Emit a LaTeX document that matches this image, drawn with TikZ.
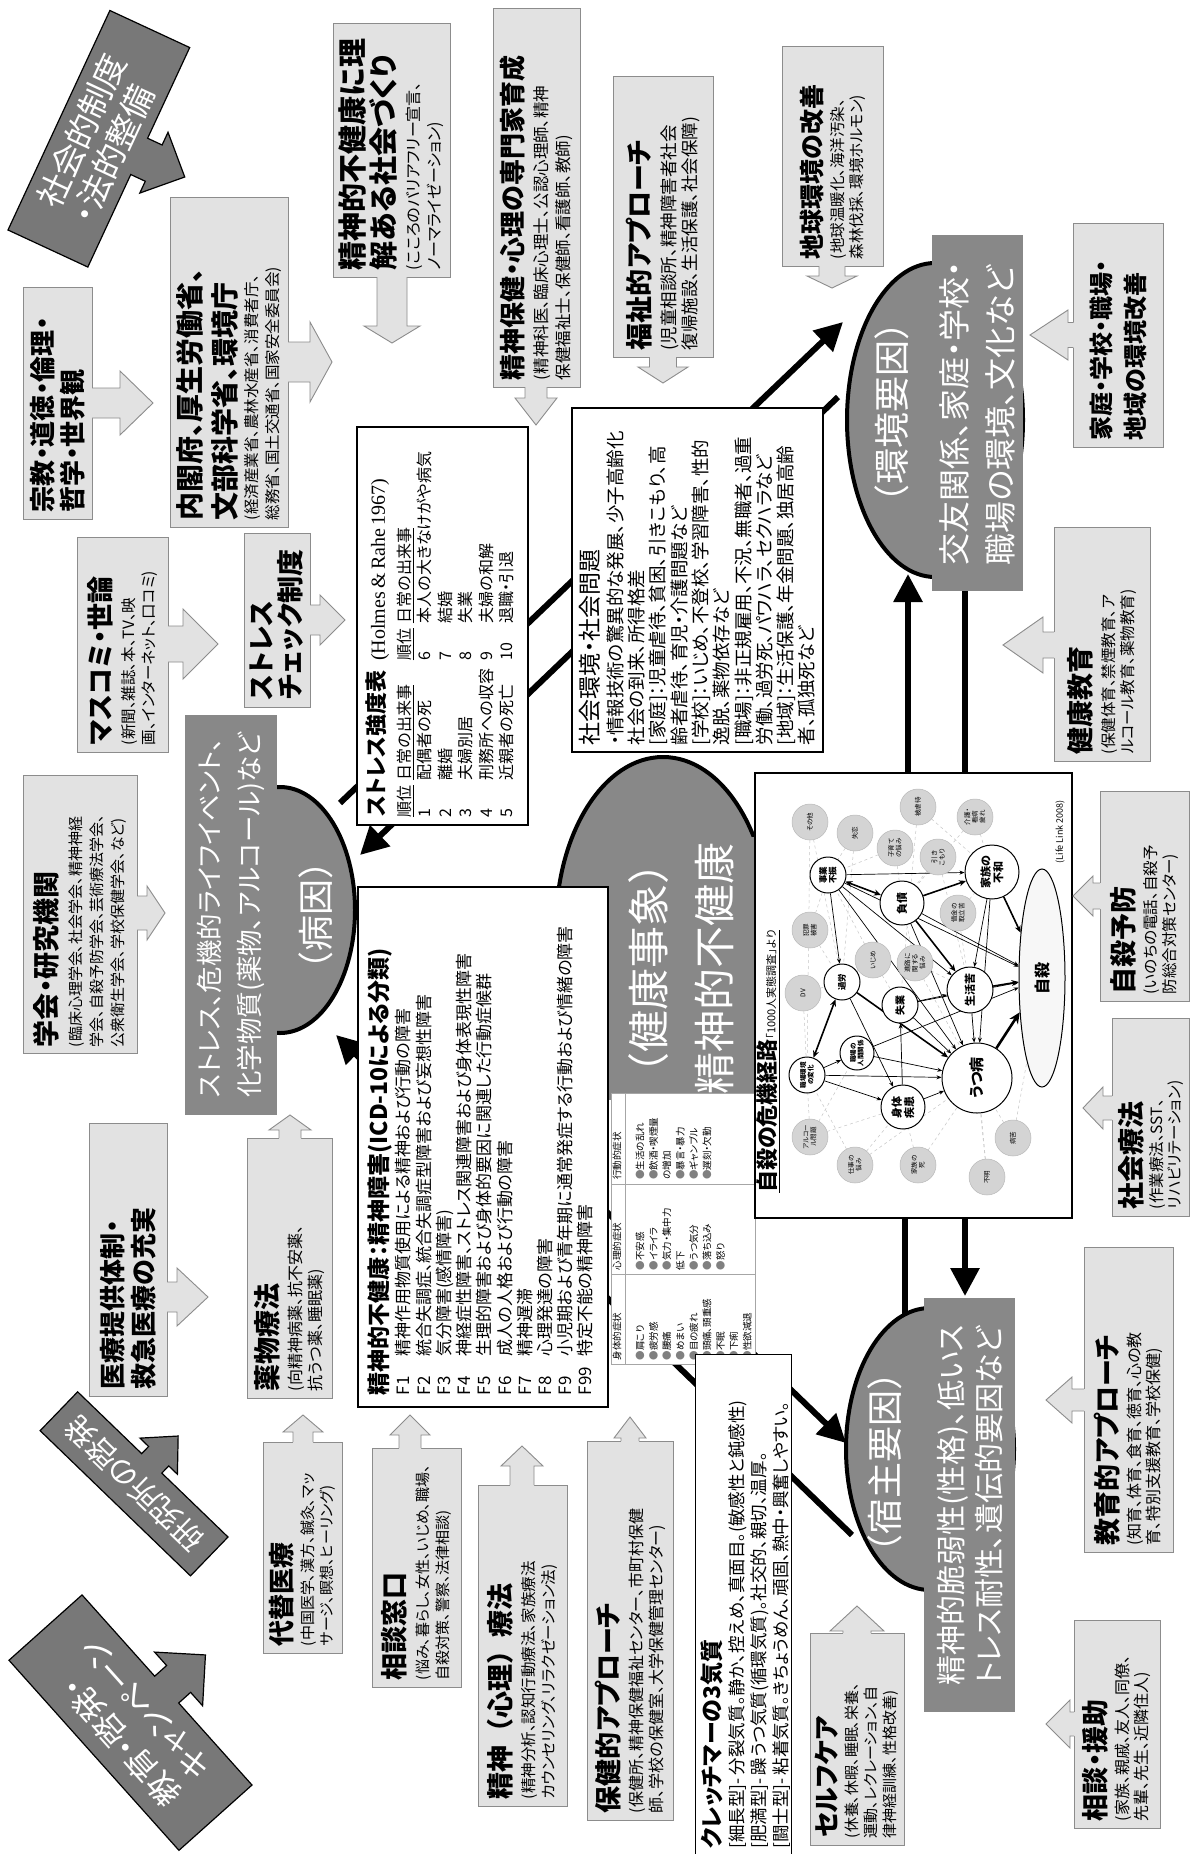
\documentclass[tikz,border=0pt]{standalone}
\usepackage{fontspec}
\setmainfont{Noto Sans CJK JP}[RawFeature=+palt]
\newfontfamily\jpfull{Noto Sans CJK JP}
\newfontfamily\serifL{Liberation Serif}
\usepackage{colortbl}
\usetikzlibrary{shapes.geometric,arrows.meta}
\definecolor{midgray}{RGB}{136,136,136}
\definecolor{darkarrow}{RGB}{120,120,120}
\definecolor{lfill}{RGB}{226,226,226}
\definecolor{lborder}{RGB}{140,140,140}
\definecolor{minorfill}{RGB}{212,212,212}
\newcommand\fsz[2]{\fontsize{#1}{#2}\selectfont}
\newcommand\bul{{\color{gray}●}}
\newcommand{\barrow}[7]{%
\begin{scope}[shift={(#1,-#2)},rotate=#3]
\fill[lfill] (-2,-#5) -- ({#4-#7},-#5) -- ({#4-#7},-#6) -- (#4,0) -- ({#4-#7},#6) -- ({#4-#7},#5) -- (-2,#5) -- cycle;
\draw[lborder,line width=0.9pt] (0,-#5) -- ({#4-#7},-#5) -- ({#4-#7},-#6) -- (#4,0) -- ({#4-#7},#6) -- ({#4-#7},#5) -- (0,#5);
\end{scope}}
\begin{document}
\begin{tikzpicture}[x=1pt,y=1pt,
 lbox/.style={draw=lborder, fill=lfill, line width=0.9pt, rotate=90, inner xsep=7pt, inner ysep=2pt, align=left},
 wbox/.style={draw=black, fill=white, line width=1.3pt, rotate=90, inner xsep=8pt, inner ysep=3pt, align=left},
 gbox/.style={fill=midgray, rotate=90, inner sep=0pt, align=left, text=white},
 gell/.style={ellipse, draw=black, line width=4pt, fill=midgray, inner sep=0pt},
 elltext/.style={rotate=90, text=white, font={\jpfull\fsz{36}{40}}, inner sep=0pt},
 thk/.style={line width=6pt},
 thkarr/.style={line width=6pt, -{Triangle[length=28pt,width=28pt]}},
 darr/.style={fill=darkarrow, draw=black, line width=1.2pt, line join=miter},
 nmain/.style={circle, draw=black, line width=1pt, fill=white, inner sep=0pt, rotate=90, align=center, font={\fsz{8.5}{9.5}\bfseries}},
 nminor/.style={circle, draw=gray!55, line width=0.5pt, fill=minorfill, inner sep=0pt, rotate=90, align=center, font={\fsz{6.5}{7.5}}, minimum size=36pt},
 ghost/.style={circle, inner sep=0pt, outer sep=0pt},
 na/.style={line width=0.7pt, -{Stealth[length=5pt,width=4pt]}},
 nb/.style={line width=1.6pt, -{Stealth[length=7pt,width=6pt]}},
 nd/.style={line width=1.6pt, {Stealth[length=7pt,width=6pt]}-{Stealth[length=7pt,width=6pt]}},
 ndash/.style={dashed, gray!45, line width=0.5pt}]
\useasboundingbox (0,0) rectangle (1191,-1854);
\fill[white] (0,0) rectangle (1191,-1854);

% ---------- thick connectors ----------
\coordinate (L1a) at (340,-803);  \coordinate (L1b) at (843,-322);
\coordinate (L2a) at (838,-397);  \coordinate (L2b) at (360,-855);
\coordinate (L3a) at (908,-773);  \coordinate (L3b) at (908,-574);
\coordinate (L4a) at (965,-590);  \coordinate (L4b) at (965,-773);
\coordinate (L5a) at (905,-1218); \coordinate (L5b) at (905,-1316);
\coordinate (L6a) at (965,-1218); \coordinate (L6b) at (965,-1296);
\coordinate (L7a) at (372,-985);  \coordinate (L7b) at (846,-1443);
\coordinate (L8a) at (852,-1535); \coordinate (L8b) at (336,-1035);
\draw[thkarr] (L1a) -- (L1b);
\draw[thkarr] (L2a) -- (L2b);
\draw[thkarr] (L3a) -- (L3b);
\draw[thk] (L4a) -- (L4b);
\draw[thk] (L5a) -- (L5b);
\draw[thkarr] (L6a) -- (L6b);
\draw[thkarr] (L7a) -- (L7b);
\draw[thkarr] (L8a) -- (L8b);

% ---------- ellipses & gray boxes ----------
\node[gell, minimum width=150pt, minimum height=246pt] (byoinE) at (280,-910) {};
\node[gbox, font={\fsz{26.5}{40}}, minimum width=400pt, minimum height=92pt] (byoinB) at (231,-915) {ストレス、危機的ライフイベント、\\化学物質(薬物、アルコール)など};
\node[elltext] (byoinT) at (316,-915) {（病因）};

\node[gell, minimum width=176pt, minimum height=314pt] (kankyoE) at (935,-420) {};
\node[gbox, font={\fsz{32}{46}}, minimum width=356pt, minimum height=91pt] (kankyoB) at (977.5,-413) {交友関係、家庭・学校・\\職場の環境、文化など};
\node[elltext] (kankyoT) at (892,-412) {（環境要因）};

\node[gell, minimum width=168pt, minimum height=282pt] (shukuE) at (930,-1449) {};
\node[gbox, font={\fsz{30}{38}}, minimum width=414pt, minimum height=91pt] (shukuB) at (969.5,-1505) {精神的脆弱性(性格)、低いス\\トレス耐性、遺伝的要因など};
\node[elltext] (shukuT) at (885,-1462) {（宿主要因）};

\node[gell, minimum width=214pt, minimum height=340pt] (kenkoE) at (663,-927) {};
\node[gbox, align=center, font={\fsz{42}{66}}, minimum width=263pt, minimum height=147pt] (kenkoB) at (681.5,-968.5) {{\jpfull （健康事象）}\\精神的不健康};

% ---------- white boxes ----------
\node[wbox, minimum width=398pt, minimum height=171pt, text width=382pt] (stressT) at (442.5,-626) {%
{\fsz{22}{26}\bfseries ストレス強度表}\hspace{10pt}{\serifL\fsz{20}{26}(Holmes \& Rahe 1967)}\par\vspace{6pt}%
{\fsz{16}{20.5}\begin{tabular}{@{}l@{\hspace{5pt}}l@{\hspace{8pt}}l@{\hspace{5pt}}l@{}}
\underline{順位} & \underline{日常の出来事} & \underline{順位} & \underline{日常の出来事}\\
1 & 配偶者の死 & 6 & 本人の大きなけがや病気\\
2 & 離婚 & 7 & 結婚\\
3 & 夫婦別居 & 8 & 失業\\
4 & 刑務所への収容 & 9 & 夫婦の和解\\
5 & 近親者の死亡 & 10 & 退職・引退
\end{tabular}\par}};

\node[wbox, minimum width=344pt, minimum height=251pt, text width=330pt, inner xsep=7pt] (shakaiK) at (697.5,-580) {%
{\fsz{23}{28}社会環境・社会問題\par}\vspace{2pt}%
{\fsz{18.5}{21.3}・情報技術の驚異的な発展、少子高齢化\\社会の到来、所得格差\\{}[家庭]：児童虐待、貧困、引きこもり、高\\齢者虐待、育児・介護問題など\\{}[学校]：いじめ、不登校、学習障害、性的\\逸脱、薬物依存など\\{}[職場]：非正規雇用、不況、無職者、過重\\労働、過労死、パワハラ、セクハラなど\\{}[地域]：生活保護、年金問題、独居高齢\\者、孤独死など\par}};

\node[wbox, minimum width=520pt, minimum height=250pt, text width=496pt, inner xsep=12pt] (icd) at (483,-1147) {%
{\fsz{23}{28}\bfseries 精神的不健康：精神障害(ICD-10による分類)\par}\vspace{2pt}%
{\fsz{17}{19.7}\begin{tabular}{@{}l@{\hspace{10pt}}l@{}}
F1 & 精神作用物質使用による精神および行動の障害\\
F2 & 統合失調症、統合失調症型障害および妄想性障害\\
F3 & 気分障害(感情障害)\\
F4 & 神経症性障害、ストレス関連障害および身体表現性障害\\
F5 & 生理的障害および身体的要因に関連した行動症候群\\
F6 & 成人の人格および行動の障害\\
F7 & 精神遅滞\\
F8 & 心理発達の障害\\
F9 & 小児期および青年期に通常発症する行動および情緒の障害\\
F99 & 特定不能の精神障害
\end{tabular}\par}};

\node[rotate=90, draw=gray!70, line width=0.6pt, fill=white, inner sep=0pt] (symp) at (683,-1229) {\fsz{9.5}{13.4}\arrayrulecolor{gray!70}\setlength{\tabcolsep}{4pt}%
\begin{tabular}{p{82pt}|p{82pt}|p{82pt}}
身体的症状 & 心理的症状 & 行動的症状\\\hline
\bul 肩こり\newline\bul 疲労感\newline\bul 腰痛\newline\bul めまい\newline\bul 目の疲れ\newline\bul 頭痛、頭重感\newline\bul 不眠\newline\bul 下痢\newline\bul 性欲減退 &
\bul 不安感\newline\bul イライラ\newline\bul 気力・集中力\newline 低下\newline\bul うつ気分\newline\bul 落ち込み\newline\bul 怒り &
\bul 生活の乱れ\newline\bul 飲酒・喫煙量\newline の増加\newline\bul 暴言・暴力\newline\bul ギャンブル\newline\bul 遅刻・欠勤
\end{tabular}};

\node[draw=black, line width=1pt, fill=white, minimum width=96pt, minimum height=520pt, inner sep=0pt] (kretB) at (743,-1614) {};
\node[rotate=90, anchor=north west, inner sep=0pt, text width=480pt, align=left] (kretT) at (700,-1849) {%
{\fsz{23}{26}\bfseries クレッチマーの3気質\par}\vspace{1pt}%
{\fsz{17.5}{22}[細長型]- 分裂気質。静か、控えめ、真面目。(敏感性と鈍感性)\\{}[肥満型]- 躁うつ気質(循環気質)。社交的、親切、温厚。\\{}[闘士型]- 粘着気質。きちょうめん、頑固、熱中・興奮しやすい。\par}};

% ---------- suicide crisis network ----------
\node[draw=black, line width=1.3pt, fill=white, minimum width=317pt, minimum height=445pt, inner sep=0pt] (sbox) at (913.5,-995.5) {};
\node[rotate=90, anchor=west, inner sep=0pt] (stitle) at (768,-1193) {\underline{{\fsz{22}{24}\bfseries 自殺の危機経路}{\fsz{11}{13}「1000人実態調査」より}}};
\node[rotate=90, anchor=east, inner sep=0pt, font={\fsz{9}{10}}] (llink) at (1060,-800) {(Life Link 2008)};

\path (810,-822) node[ghost, minimum size=36pt] (m1) {};
\path (855,-833) node[ghost, minimum size=36pt] (m2) {};
\path (895,-848) node[ghost, minimum size=36pt] (m3) {};
\path (918,-807) node[ghost, minimum size=36pt] (m4) {};
\path (938,-857) node[ghost, minimum size=36pt] (m5) {};
\path (975,-817) node[ghost, minimum size=36pt] (m6) {};
\path (958,-913) node[ghost, minimum size=36pt] (m7) {};
\path (810,-930) node[ghost, minimum size=36pt] (m8) {};
\path (803,-993) node[ghost, minimum size=36pt] (m9) {};
\path (873,-960) node[ghost, minimum size=36pt] (m10) {};
\path (915,-963) node[ghost, minimum size=36pt] (m11) {};
\path (810,-1137) node[ghost, minimum size=36pt] (m12) {};
\path (855,-1165) node[ghost, minimum size=36pt] (m13) {};
\path (918,-1165) node[ghost, minimum size=36pt] (m14) {};
\path (1013,-1138) node[ghost, minimum size=36pt] (m15) {};
\path (987,-1177) node[ghost, minimum size=36pt] (m16) {};
\path (828,-875) node[ghost, minimum size=37pt] (n1) {};
\path (902,-903) node[ghost, minimum size=45pt] (n2) {};
\path (992,-872) node[ghost, minimum size=55pt] (n3) {};
\path (842,-982) node[ghost, minimum size=37pt] (n4) {};
\path (900,-1005) node[ghost, minimum size=37pt] (n5) {};
\path (970,-990) node[ghost, minimum size=47pt] (n6) {};
\path (857,-1053) node[ghost, minimum size=35pt] (n7) {};
\path (807,-1075) node[ghost, minimum size=37pt] (n8) {};
\path (903,-1107) node[ghost, minimum size=45pt] (n9) {};
\path (977,-1078) node[ghost, minimum size=71pt] (n10) {};
\path (1042,-978) node[ellipse, inner sep=0pt, outer sep=0pt, minimum width=47pt, minimum height=219pt] (J) {};

\foreach \a/\b in {m1/n4,m2/n1,m3/n2,m4/n3,m5/n6,m6/n3,m7/n6,m8/n4,m9/n8,m10/n5,m11/n6,m12/n9,m13/n10,m14/n10,m15/n10,m16/n10,m8/n1,m9/n4,m10/n1,m12/n8,m13/n9,m3/n1,m5/n2,m14/n9,m11/n10,m7/n3,m2/n4,m1/n8,m10/n4,m11/n2,m4/n5,m6/n2,m15/J,m16/n6,m12/n7,m13/n8}
  \draw[ndash] (\a) -- (\b);
\draw[na] (n1) -- (n3);
\draw[nd] (n1) -- (n2);
\draw[nb] (n2) -- (n3);
\draw[na] (n1) -- (n4);
\draw[na] (n1) -- (n6);
\draw[na] (n1) -- (n10);
\draw[na] (n1) -- (J);
\draw[nb] (n2) -- (n6);
\draw[na] (n2) -- (J);
\draw[na] (n2) -- (n10);
\draw[nb] (n3) -- (J);
\draw[na] (n3) -- (n10);
\draw[na] (n3) -- (n6);
\draw[nd] (n4) -- (n8);
\draw[nb] (n4) -- (n10);
\draw[na] (n4) -- (n9);
\draw[na] (n5) -- (n6);
\draw[na] (n5) -- (J);
\draw[na] (n5) -- (n10);
\draw[nb] (n6) -- (J);
\draw[na] (n6) -- (n10);
\draw[na] (n7) -- (n10);
\draw[na] (n7) -- (J);
\draw[na] (n8) -- (n7);
\draw[na] (n8) -- (n10);
\draw[na] (n8) -- (n9);
\draw[na] (n9) -- (n10);
\draw[na] (n9) -- (n5);
\draw[line width=2.6pt, -{Stealth[length=11pt,width=10pt]}] (n10) -- (J);

\node[nminor] (m1v) at (m1) {その他};
\node[nminor] (m2v) at (m2) {失恋};
\node[nminor] (m3v) at (m3) {子育て\\の悩み};
\node[nminor] (m4v) at (m4) {被虐待};
\node[nminor] (m5v) at (m5) {引き\\こもり};
\node[nminor] (m6v) at (m6) {介護・\\看病\\疲れ};
\node[nminor] (m7v) at (m7) {借金の\\取立苦};
\node[nminor] (m8v) at (m8) {犯罪\\被害};
\node[nminor] (m9v) at (m9) {DV};
\node[nminor] (m10v) at (m10) {いじめ};
\node[nminor] (m11v) at (m11) {進路に\\関する\\悩み};
\node[nminor] (m12v) at (m12) {アルコー\\ル問題};
\node[nminor] (m13v) at (m13) {仕事の\\悩み};
\node[nminor] (m14v) at (m14) {家族の\\死};
\node[nminor] (m15v) at (m15) {病苦};
\node[nminor] (m16v) at (m16) {不明};
\node[nmain, minimum size=36pt] (n1v) at (n1) {事業\\不振};
\node[nmain, minimum size=44pt, font={\fsz{11}{12}\bfseries}] (n2v) at (n2) {負債};
\node[nmain, minimum size=54pt, font={\fsz{11}{12.5}\bfseries}] (n3v) at (n3) {家族の\\不和};
\node[nmain, minimum size=36pt] (n4v) at (n4) {過労};
\node[nmain, minimum size=36pt, font={\fsz{10}{11}\bfseries}] (n5v) at (n5) {失業};
\node[nmain, minimum size=46pt, font={\fsz{11}{12}\bfseries}] (n6v) at (n6) {生活苦};
\node[nmain, minimum size=34pt, font={\fsz{6.5}{7.5}\bfseries}] (n7v) at (n7) {職場の\\人間関係};
\node[nmain, minimum size=36pt, font={\fsz{6.5}{7.5}\bfseries}] (n8v) at (n8) {職場環境\\の変化};
\node[nmain, minimum size=44pt, font={\fsz{11}{12.5}\bfseries}] (n9v) at (n9) {身体\\疾患};
\node[nmain, minimum size=70pt, font={\fsz{15}{17}\bfseries}] (n10v) at (n10) {うつ病};
\node[ellipse, draw=black, line width=1pt, fill=gray!6, rotate=90, inner sep=0pt, minimum width=218pt, minimum height=46pt, font={\fsz{16}{18}\bfseries}] (Jv) at (J) {自殺};

% ---------- light boxes ----------
\node[lbox, minimum width=232pt, minimum height=69pt, text width=218pt] (shukyo) at (57.5,-403) {{\fsz{26}{30}\bfseries 宗教・道徳・倫理・\\哲学・世界観\par}};
\node[lbox, minimum width=330pt, minimum height=118pt, text width=316pt] (naikaku) at (229,-362) {{\fsz{28}{35}\bfseries 内閣府、厚生労働省、\\文部科学省、環境庁\par}\vspace{1pt}{\fsz{15.5}{21}(経済産業省、農林水産省、消費者庁、\\総務省、国土交通省、国家安全委員会)\par}};
\node[lbox, minimum width=254pt, minimum height=117pt, text width=240pt] (rikai) at (391.5,-150) {{\fsz{29}{31}\bfseries 精神的不健康に理\\解ある社会づくり\par}\vspace{4pt}{\fsz{16}{21}(こころのバリアフリー宣言、\\ノーマライゼーション)\par}};
\node[lbox, minimum width=379pt, minimum height=87pt, text width=365pt] (senmon) at (536.5,-197.5) {{\fsz{26}{30}\bfseries 精神保健・心理の専門家育成\par}\vspace{3pt}{\fsz{16.5}{22}(精神科医、臨床心理士、公認心理師、精神\\保健福祉士、保健師、看護師、教師)\par}};
\node[lbox, minimum width=281pt, minimum height=100pt, text width=267pt] (fukushi) at (663,-216.5) {{\fsz{27}{30}\bfseries 福祉的アプローチ\par}\vspace{5pt}{\fsz{17.5}{21}(児童相談所、精神障害者社会\\復帰施設、生活保護、社会保障)\par}};
\node[lbox, minimum width=220pt, minimum height=101pt, text width=206pt] (chikyu) at (832.5,-156) {{\fsz{25}{30}\bfseries 地球環境の改善\par}\vspace{3pt}{\fsz{15.5}{19}(地球温暖化、海洋汚染、\\森林伐採、環境ホルモン)\par}};
\node[lbox, minimum width=224pt, minimum height=90pt, text width=210pt] (katei) at (1118,-335) {{\fsz{24}{34}\bfseries 家庭・学校・職場・\\地域の環境改善\par}};
\node[lbox, minimum width=234pt, minimum height=96pt, text width=220pt] (kenkyo) at (1102,-644) {{\fsz{27}{30}\bfseries 健康教育\par}\vspace{5pt}{\fsz{15.5}{19}(保健体育、禁煙教育、ア\\ルコール教育、薬物教育)\par}};
\node[lbox, minimum width=210pt, minimum height=89pt, text width=196pt] (yobo) at (1144.5,-896) {{\fsz{27}{30}\bfseries 自殺予防\par}\vspace{4pt}{\fsz{15.5}{19}(いのちの電話、自殺予\\防総合対策センター)\par}};
\node[lbox, minimum width=198pt, minimum height=77pt, text width=184pt] (ryoho) at (1150.5,-1117) {{\fsz{27}{30}\bfseries 社会療法\par}\vspace{3pt}{\fsz{15.5}{18}(作業療法、SST、\\リハビリテーション)\par}};
\node[lbox, minimum width=305pt, minimum height=89pt, text width=291pt] (kyoiku) at (1128.5,-1399.5) {{\fsz{27}{30}\bfseries 教育的アプローチ\par}\vspace{4pt}{\fsz{16}{19}(知育、体育、食育、徳育、心の教\\育、特別支援教育、学校保健)\par}};
\node[lbox, minimum width=208pt, minimum height=86pt, text width=194pt] (endo) at (1117,-1724) {{\fsz{27}{30}\bfseries 相談・援助\par}\vspace{4pt}{\fsz{16}{19}(家族、親戚、友人、同僚、\\先輩、先生、近隣住人)\par}};
\node[lbox, minimum width=212pt, minimum height=94pt, text width=198pt] (self) at (857,-1739) {{\fsz{26}{30}\bfseries セルフケア\par}\vspace{2pt}{\fsz{15}{19}(休養、休暇、睡眠、栄養、\\運動、レクレーション、自\\律神経訓練、性格改善)\par}};
\node[lbox, minimum width=379pt, minimum height=86pt, text width=365pt] (hoken) at (630,-1630.5) {{\fsz{27}{30}\bfseries 保健的アプローチ\par}\vspace{4pt}{\fsz{16}{20}(保健所、精神保健福祉センター、市町村保健\\師、学校の保健室、大学保健管理センター)\par}};
\node[lbox, minimum width=321pt, minimum height=89pt, text width=307pt] (shinri) at (522.5,-1645.5) {{\fsz{27}{30}\bfseries 精神{\jpfull （}心理{\jpfull ）}療法\par}\vspace{4pt}{\fsz{15.5}{20}(精神分析、認知行動療法、家族療法\\カウンセリング、リラクゼーション法)\par}};
\node[lbox, minimum width=239pt, minimum height=89pt, text width=225pt] (madoguchi) at (416.5,-1567.5) {{\fsz{27}{30}\bfseries 相談窓口\par}\vspace{4pt}{\fsz{15}{20}(悩み、暮らし、女性、いじめ、職場、\\自殺対策、警察、法律相談)\par}};
\node[lbox, minimum width=211pt, minimum height=79pt, text width=197pt] (daitai) at (302.5,-1547.5) {{\fsz{26}{30}\bfseries 代替医療\par}\vspace{3pt}{\fsz{15}{19}(中国医学、漢方、鍼灸、マッ\\サージ、瞑想、ヒーリング)\par}};
\node[lbox, minimum width=260pt, minimum height=85pt, text width=246pt] (yakubutsu) at (289.5,-1268) {{\fsz{27}{30}\bfseries 薬物療法\par}\vspace{4pt}{\fsz{16}{20}(向精神病薬、抗不安薬、\\抗うつ薬、睡眠薬)\par}};
\node[lbox, minimum width=273pt, minimum height=78pt, text width=259pt] (iryo) at (128,-1259.5) {{\fsz{26}{31}\bfseries 医療提供体制・\\救急医療の充実\par}};
\node[lbox, minimum width=278pt, minimum height=114pt, text width=266pt, inner xsep=6pt] (gakkai) at (80,-914) {{\fsz{27}{30}\bfseries 学会・研究機関\par}\vspace{4pt}{\fsz{15}{21}(臨床心理学会、社会学会、精神神経\\学会、自殺予防学会、芸術療法学会、\\公衆衛生学会、学校保健学会、など)\par}};
\node[lbox, minimum width=215pt, minimum height=91pt, text width=201pt] (masukomi) at (122.5,-644.5) {{\fsz{27}{30}\bfseries マスコミ・世論\par}\vspace{4pt}{\fsz{15.5}{20}(新聞、雑誌、本、TV、映\\画、インターネット、口コミ)\par}};
\node[lbox, minimum width=174pt, minimum height=66pt, text width=160pt] (check) at (277,-620) {{\fsz{27}{29}\bfseries ストレス\\チェック制度\par}};

% block arrows: x, y, angle, length, stem half-width, head half-width, head length
\barrow{92}{403}{0}{61}{15}{32}{33}
\barrow{288}{362}{0}{44}{20}{40}{22}
\barrow{392}{277}{270}{66}{15}{28}{17}
\barrow{536}{387}{270}{38}{11}{21}{27}
\barrow{663}{357}{270}{26}{13.5}{25}{16}
\barrow{832}{266}{270}{22}{13}{25}{12}
\barrow{1073}{335}{180}{43}{12.5}{25}{38}
\barrow{1054}{645}{180}{51}{13}{28}{40}
\barrow{1100}{896}{180}{27}{13}{20}{20}
\barrow{1112}{1108}{180}{29}{12}{21}{20}
\barrow{1084}{1400}{180}{38}{11}{23}{26}
\barrow{1074}{1724}{180}{28}{12}{24}{24}
\barrow{857}{1633}{90}{27}{14}{27}{25}
\barrow{630}{1441}{90}{24}{9}{16}{21}
\barrow{522}{1485}{90}{39}{12}{21}{20}
\barrow{410}{1448}{90}{33}{11}{20}{20}
\barrow{303}{1442}{90}{27}{10}{20}{17}
\barrow{290}{1138}{90}{23}{11}{21}{15}
\barrow{167}{1297}{0}{41}{15}{29}{31}
\barrow{137}{913}{0}{28}{17}{27}{18}
\barrow{168}{644}{0}{50}{18}{35}{35}
\barrow{310}{620}{0}{35}{15}{25}{25}

% ---------- dark tilted arrows ----------
\begin{scope}[shift={(8,-230)},rotate=65.1]
\draw[darr] (0,0) -- (242,0) -- (242,-88) -- (142,-88) -- (142,-104) -- (156,-104) -- (122.5,-138) -- (89,-104) -- (102,-104) -- (102,-88) -- (0,-88) -- cycle;
\node[transform shape, text=white, align=left, font={\fsz{33}{38}}, inner sep=0pt] (seido) at (121,-44) {社会的制度\\・法的整備};
\end{scope}
\begin{scope}[shift={(228,-1537)},rotate=136]
\draw[darr] (0,0) -- (92,0) -- (92,-10) -- (80,-10) -- (106,-38) -- (132,-10) -- (120,-10) -- (120,0) -- (209,0) -- (209,54) -- (0,54) -- cycle;
\node[transform shape, text=white, font={\fsz{30}{34}}, inner sep=0pt] (kenkyujo) at (104.5,27) {研究所の啓発};
\end{scope}
\begin{scope}[shift={(252,-1785)},rotate=131.8]
\draw[darr] (0,0) -- (110,0) -- (110,-16) -- (92,-16) -- (128,-52) -- (164,-16) -- (146,-16) -- (146,0) -- (255,0) -- (255,98) -- (0,98) -- cycle;
\node[transform shape, text=white, align=left, font={\fsz{32}{40}}, inner sep=0pt] (keihatsu) at (127.5,49) {教育・啓発・\\キャンペーン};
\end{scope}
\end{tikzpicture}
\end{document}
